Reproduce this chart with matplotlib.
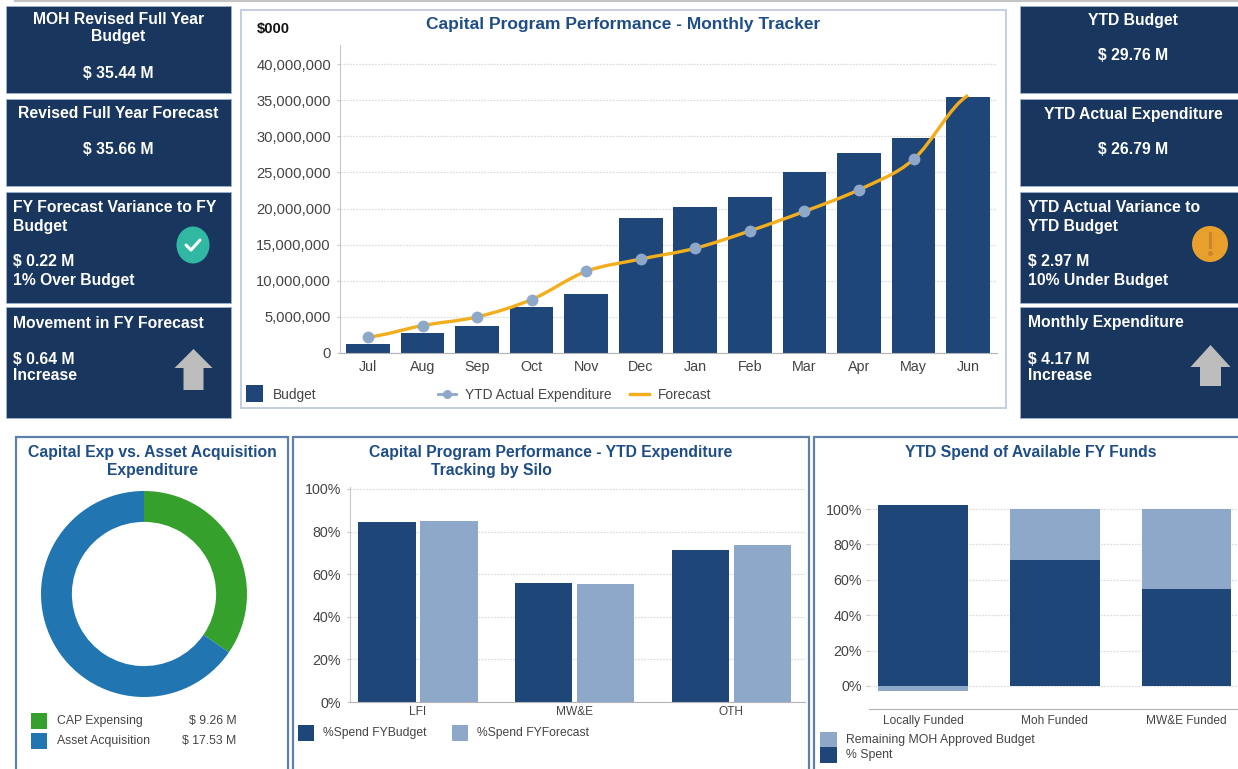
import matplotlib
matplotlib.use("Agg")
import matplotlib.pyplot as plt
from matplotlib.patches import Rectangle, Ellipse, Polygon, PathPatch
from matplotlib.path import Path
from matplotlib.ticker import FuncFormatter

plt.rcParams['font.family'] = ['Liberation Sans', 'DejaVu Sans']

W, H = 1238, 769
NAVY = '#19365e'; BAR = '#1f4678'; LIGHT = '#8da8c9'; GOLD = '#f2ae1c'
TITLE = '#1f4e86'; TXT = '#444444'; GRID = '#dedede'; EDGE = '#5f80aa'

months = ['Jul', 'Aug', 'Sep', 'Oct', 'Nov', 'Dec', 'Jan', 'Feb', 'Mar', 'Apr', 'May', 'Jun']
budget = [1.2e6, 2.75e6, 3.8e6, 6.4e6, 8.1e6, 18.7e6, 20.2e6, 21.6e6, 25.1e6, 27.7e6, 29.8e6, 35.5e6]
ytd_actual = [2.2e6, 3.8e6, 5.0e6, 7.4e6, 11.3e6, 13.0e6, 14.5e6, 16.9e6, 19.6e6, 22.6e6, 26.8e6]
forecast = [2.2e6, 3.8e6, 5.0e6, 7.4e6, 11.3e6, 13.0e6, 14.5e6, 16.9e6, 19.6e6, 22.6e6, 26.8e6, 35.66e6]

donut_labels = ['CAP Expensing', 'Asset Acquisition']
donut_values = [9.26, 17.53]
donut_text = ['$ 9.26 M', '$ 17.53 M']
donut_colors = ['#36a02c', '#2176b2']

silos = ['LFI', 'MW&E', 'OTH']
spend_budget = [84.6, 56.0, 71.5]
spend_forecast = [84.8, 55.5, 73.5]

funds = ['Locally Funded', 'Moh Funded', 'MW&E Funded']
spent = [102.5, 71.0, 55.0]
remaining = [-2.8, 29.0, 45.0]

fig = plt.figure(figsize=(W / 100, H / 100), dpi=100, facecolor='white')
bg = fig.add_axes([0, 0, 1, 1], zorder=0)
bg.set_xlim(0, W); bg.set_ylim(H, 0); bg.axis('off')


def axes_px(x0, y0, x1, y1):
    ax = fig.add_axes([x0 / W, 1 - y1 / H, (x1 - x0) / W, (y1 - y0) / H], zorder=1)
    ax.patch.set_alpha(0)
    return ax


def card(x0, y0, x1, y1, lines):
    bg.add_patch(Rectangle((x0, y0), x1 - x0, y1 - y0, fc=NAVY, ec='#9fb2cc', lw=0.6))
    for (x, y, s, ha) in lines:
        bg.text(x, y + 1, s, color='white', fontsize=11.3, fontweight='bold', ha=ha, va='center')


LC = 118.5
RC = 1133
card(6, 6, 231, 93, [(LC, 19, 'MOH Revised Full Year', 'center'), (LC, 36, 'Budget', 'center'),
                     (LC, 72, '$ 35.44 M', 'center')])
card(6, 99, 231, 186, [(LC, 113, 'Revised Full Year Forecast', 'center'), (LC, 148, '$ 35.66 M', 'center')])
card(6, 192, 231, 303, [(13, 206, 'FY Forecast Variance to FY', 'left'), (13, 225, 'Budget', 'left'),
                        (13, 260, '$ 0.22 M', 'left'), (13, 279, '1% Over Budget', 'left')])
card(6, 307, 231, 418, [(13, 322, 'Movement in FY Forecast', 'left'), (13, 358, '$ 0.64 M', 'left'),
                        (13, 375, 'Increase', 'left')])
card(1020, 6, 1238, 93, [(RC, 19, 'YTD Budget', 'center'), (RC, 55, '$ 29.76 M', 'center')])
card(1020, 99, 1238, 186, [(RC, 113, 'YTD Actual Expenditure', 'center'), (RC, 148, '$ 26.79 M', 'center')])
card(1020, 192, 1238, 303, [(1028, 206, 'YTD Actual Variance to', 'left'), (1028, 225, 'YTD Budget', 'left'),
                            (1028, 260, '$ 2.97 M', 'left'), (1028, 279, '10% Under Budget', 'left')])
card(1020, 307, 1238, 418, [(1028, 322, 'Monthly Expenditure', 'left'), (1028, 358, '$ 4.17 M', 'left'),
                            (1028, 375, 'Increase', 'left')])

# status icons
bg.add_patch(Ellipse((193, 245), 33, 37, fc='#30b8a2', ec='none'))
bg.plot([186, 191, 200], [245, 250, 240], color='white', lw=2.2, solid_capstyle='round', solid_joinstyle='round')
bg.add_patch(Ellipse((1210, 244), 36, 36, fc='#e89f2c', ec='none'))
bg.plot([1210, 1210], [233, 247], color='#c9872a', lw=2.2)
bg.plot([1210], [253], 'o', color='#c9872a', ms=2.5)


def arrow(cx, top, hw, sw, sh, bot):
    bg.add_patch(Polygon([(cx, top), (cx + hw, sh), (cx + sw, sh), (cx + sw, bot), (cx - sw, bot),
                          (cx - sw, sh), (cx - hw, sh)], closed=True, fc='#bdbdbd', ec='none'))


arrow(193.5, 349, 19, 10, 368, 390)
arrow(1210.5, 345, 20, 10.5, 367, 386)

# panels
bg.plot([15, 1238], [0.5, 0.5], color='#c4c4c4', lw=1.5)
bg.add_patch(Rectangle((241, 10), 765, 398, fc='white', ec='#c3cfe0', lw=1.4))
for x0, x1 in [(16, 288), (293, 809), (814, 1240)]:
    bg.add_patch(Rectangle((x0, 437), x1 - x0, 340, fc='white', ec=EDGE, lw=1.6))

TS = 11.3
bg.text(623, 24, 'Capital Program Performance - Monthly Tracker', color=TITLE, fontsize=12.5, fontweight='bold',
        ha='center', va='center')
bg.text(273, 29, '$000', color='#111111', fontsize=10.6, fontweight='bold', ha='center', va='center')
bg.text(152, 452, 'Capital Exp vs. Asset Acquisition', color=TITLE, fontsize=TS, fontweight='bold', ha='center', va='center')
bg.text(152, 471, 'Expenditure', color=TITLE, fontsize=TS, fontweight='bold', ha='center', va='center')
bg.text(551, 452, 'Capital Program Performance - YTD Expenditure', color=TITLE, fontsize=TS, fontweight='bold', ha='center', va='center')
bg.text(491, 471, 'Tracking by Silo', color=TITLE, fontsize=TS, fontweight='bold', ha='center', va='center')
bg.text(1031, 452, 'YTD Spend of Available FY Funds', color=TITLE, fontsize=TS, fontweight='bold', ha='center', va='center')


def style(ax, left=True):
    for s in ['top', 'right']:
        ax.spines[s].set_visible(False)
    ax.spines['left'].set_color('#c8c8c8')
    ax.spines['left'].set_visible(left)
    ax.spines['bottom'].set_color('#b4b4b4')
    ax.set_axisbelow(True)
    ax.grid(axis='y', color=GRID, lw=0.9, ls=(0, (1.5, 1)))
    ax.tick_params(axis='y', length=2.5, pad=4, color='#c8c8c8', labelcolor=TXT)
    ax.tick_params(axis='x', length=0, labelcolor=TXT)


# main chart
ax = axes_px(340, 45, 997, 353)
x = list(range(len(months)))
ax.bar(x, budget, width=0.8, color=BAR)
n = len(forecast)
verts = [(0, forecast[0])]
codes = [Path.MOVETO]
for i in range(n - 1):
    p0 = forecast[max(i - 1, 0)]; p1 = forecast[i]; p2 = forecast[i + 1]; p3 = forecast[min(i + 2, n - 1)]
    verts += [(i + 1 / 3, p1 + (p2 - p0) / 6), (i + 2 / 3, p2 - (p3 - p1) / 6), (i + 1, p2)]
    codes += [Path.CURVE4] * 3
ax.add_patch(PathPatch(Path(verts, codes), fc='none', ec=GOLD, lw=2.4, zorder=3, clip_on=False))
ax.plot(x[:len(ytd_actual)], ytd_actual, ls='none', marker='o', ms=8.5, color=LIGHT, mec='none', zorder=4)
ax.set_xlim(-0.513, 11.53)
ax.set_ylim(0, 42.63e6)
ax.set_xticks(x, months, fontsize=10.3)
ax.set_yticks([i * 5e6 for i in range(9)])
ax.yaxis.set_major_formatter(FuncFormatter(lambda v, _: f'{v:,.0f}'))
style(ax)
ax.tick_params(axis='y', labelsize=10.6)
ax.tick_params(axis='x', pad=5)

# main legend
bg.add_patch(Rectangle((246, 385), 17, 17, fc=BAR, ec='none'))
bg.text(273, 395, 'Budget', color=TXT, fontsize=9.9, va='center')
bg.plot([438, 456], [394, 394], color=LIGHT, lw=2)
bg.plot([447], [394], 'o', color=LIGHT, ms=6.5, mec='none')
bg.text(465, 395, 'YTD Actual Expenditure', color=TXT, fontsize=9.9, va='center')
bg.plot([630, 649], [394, 394], color=GOLD, lw=2.4)
bg.text(658, 395, 'Forecast', color=TXT, fontsize=9.9, va='center')

# donut
ad = axes_px(41, 491, 247, 697)
ad.pie(donut_values, colors=donut_colors, startangle=90, counterclock=False, radius=1,
       wedgeprops=dict(width=0.3, lw=0))
ad.set_xlim(-1, 1); ad.set_ylim(-1, 1)
for yy, c, lab, val, vx in zip([721, 741], donut_colors, donut_labels, donut_text, [237, 236]):
    bg.add_patch(Rectangle((31, yy - 8), 16, 16, fc=c, ec='none'))
    bg.text(57, yy, lab, color=TXT, fontsize=8.8, va='center')
    bg.text(vx, yy, val, color=TXT, fontsize=8.8, va='center', ha='right')

# silo chart
a2 = axes_px(350, 487, 805, 702)
xs = list(range(len(silos)))
a2.bar([i - 0.197 for i in xs], spend_budget, width=0.366, color=BAR)
a2.bar([i + 0.197 for i in xs], spend_forecast, width=0.366, color=LIGHT)
a2.set_xlim(-0.434, 2.47)
a2.set_ylim(0, 100.9)
a2.set_xticks(xs, silos, fontsize=8.6)
a2.set_yticks([0, 20, 40, 60, 80, 100], ['0%', '20%', '40%', '60%', '80%', '100%'], fontsize=10.3)
style(a2)
a2.tick_params(axis='x', pad=3)
bg.add_patch(Rectangle((298, 725), 16, 16, fc=BAR, ec='none'))
bg.text(323, 733, '%Spend FYBudget', color=TXT, fontsize=8.7, va='center')
bg.add_patch(Rectangle((452, 725), 16, 16, fc=LIGHT, ec='none'))
bg.text(477, 733, '%Spend FYForecast', color=TXT, fontsize=8.7, va='center')

# funds chart
a3 = axes_px(869, 500, 1238, 709)
xf = list(range(len(funds)))
a3.bar(xf, spent, width=0.68, color=BAR, zorder=3)
a3.bar(xf, remaining, width=0.68, bottom=[s if r > 0 else 0 for s, r in zip(spent, remaining)],
       color=LIGHT, zorder=3)
a3.set_xlim(-0.409, 2.39)
a3.set_ylim(-13, 105.1)
a3.set_xticks(xf, funds, fontsize=8.6)
a3.set_yticks([0, 20, 40, 60, 80, 100], ['0%', '20%', '40%', '60%', '80%', '100%'], fontsize=10.3)
style(a3, left=False)
a3.tick_params(axis='x', pad=4)
a3.tick_params(axis='y', pad=2.5)
bg.add_patch(Rectangle((820, 732), 17, 15, fc=LIGHT, ec='none'))
bg.add_patch(Rectangle((820, 747), 17, 16, fc=BAR, ec='none'))
bg.text(846, 740, 'Remaining MOH Approved Budget', color=TXT, fontsize=8.8, va='center')
bg.text(846, 755, '% Spent', color=TXT, fontsize=8.8, va='center')

fig.savefig('out.png', dpi=100)
